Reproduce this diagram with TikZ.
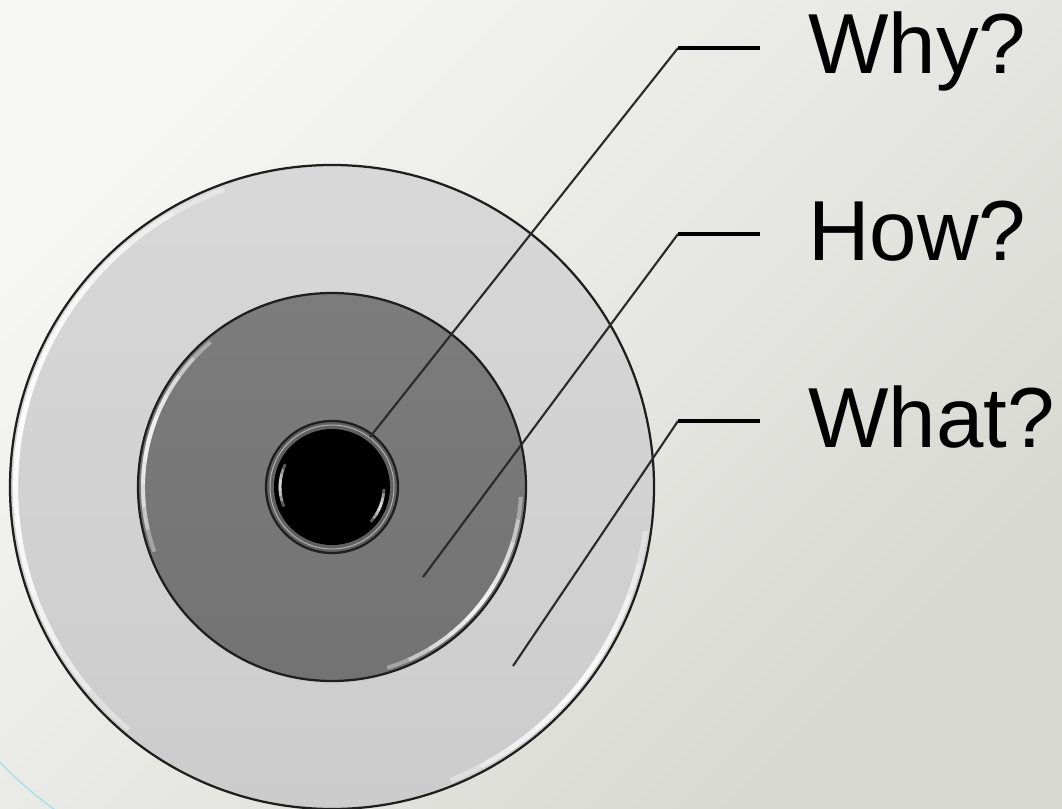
\documentclass[tikz,border=0pt]{standalone}
\usepackage{fontspec}
\setmainfont{Liberation Sans}
\usetikzlibrary{calc}
\definecolor{paperlight}{HTML}{F6F6F5}
\definecolor{paperdark}{HTML}{D8D8D2}
\definecolor{rimline}{HTML}{1E1E1E}
\definecolor{outertop}{HTML}{D8D8D8}
\definecolor{outerbot}{HTML}{CCCCCC}
\definecolor{midtop}{HTML}{7C7C7C}
\definecolor{midbot}{HTML}{737373}
\definecolor{leadgray}{HTML}{2A2A2A}
\definecolor{sky}{HTML}{A6DDE8}

\begin{document}
\begin{tikzpicture}[x=0.025cm, y=-0.025cm,
    disk/.style={draw=rimline, line width=1.6pt},
    leader/.style={draw=leadgray, line width=1.5pt},
    stub/.style={draw=black, line width=2.4pt},
    gleam/.style={draw=white, line width=3.6pt, opacity=0.36},
    qlabel/.style={anchor=base west, inner sep=0pt, text=black,
      font=\fontsize{60.6pt}{70pt}\selectfont}
  ]
  % page
  \shade[top color=paperlight, bottom color=paperdark, shading angle=45]
    (0,0) rectangle (1062,808);
  \useasboundingbox (0,0) rectangle (1062,808);
  \clip (0,0) rectangle (1062,808);

  \coordinate (core) at (332,487);
  \coordinate (swirl) at (300,470);
  \draw[sky, line width=0.9pt] ($(swirl)+(140:419)$) arc[start angle=140, end angle=122, radius=419];

  % rings
  \draw[disk, top color=outertop, bottom color=outerbot] (core) circle[radius=322];
  \foreach \s [evaluate=\s as \a using 190-10*\s, evaluate=\s as \b using 190+10*\s] in {1,...,6}
    \draw[gleam] ($(core)+(\a:316.5)$) arc[start angle=\a, end angle=\b, radius=316.5];
  \foreach \s [evaluate=\s as \a using 38-6*\s, evaluate=\s as \b using 38+6*\s] in {1,...,5}
    \draw[gleam] ($(core)+(\a:316.5)$) arc[start angle=\a, end angle=\b, radius=316.5];

  \draw[disk, top color=midtop, bottom color=midbot] (core) circle[radius=194];
  \foreach \s [evaluate=\s as \a using 195-7*\s, evaluate=\s as \b using 195+7*\s] in {1,...,5}
    \draw[gleam, line width=2.8pt] ($(core)+(\a:189)$) arc[start angle=\a, end angle=\b, radius=189];
  \foreach \s [evaluate=\s as \a using 38-7*\s, evaluate=\s as \b using 38+7*\s] in {1,...,5}
    \draw[gleam, line width=2.8pt] ($(core)+(\a:189)$) arc[start angle=\a, end angle=\b, radius=189];

  \draw[disk, fill=black!62] (core) circle[radius=66];
  \draw[black!30, line width=0.7pt] (core) circle[radius=62];
  \fill[black] (core) circle[radius=58];
  \foreach \s [evaluate=\s as \a using 182-6*\s, evaluate=\s as \b using 182+6*\s] in {1,...,4}
    \draw[gleam, line width=2pt] ($(core)+(\a:52)$) arc[start angle=\a, end angle=\b, radius=52];
  \foreach \s [evaluate=\s as \a using 22-5*\s, evaluate=\s as \b using 22+5*\s] in {1,...,4}
    \draw[gleam, line width=2pt] ($(core)+(\a:52)$) arc[start angle=\a, end angle=\b, radius=52];

  % leaders
  \coordinate (whyTip) at (370,437);
  \coordinate (whyKnee) at (678,48);
  \coordinate (whyEnd) at (760,48);
  \coordinate (howTip) at (423,577);
  \coordinate (howKnee) at (678,234);
  \coordinate (howEnd) at (760,234);
  \coordinate (whatTip) at (513,666);
  \coordinate (whatKnee) at (678,421);
  \coordinate (whatEnd) at (760,421);

  \node[qlabel] (why) at ([shift={(48,25)}]whyEnd) {Why?};
  \node[qlabel] (how) at ([shift={(48,26)}]howEnd) {How?};
  \node[qlabel] (what) at ([shift={(48,26)}]whatEnd) {What?};

  \draw[leader] (whyTip) -- (whyKnee);
  \draw[stub] (whyKnee) -- (whyEnd);
  \draw[leader] (howTip) -- (howKnee);
  \draw[stub] (howKnee) -- (howEnd);
  \draw[leader] (whatTip) -- (whatKnee);
  \draw[stub] (whatKnee) -- (whatEnd);
\end{tikzpicture}
\end{document}
